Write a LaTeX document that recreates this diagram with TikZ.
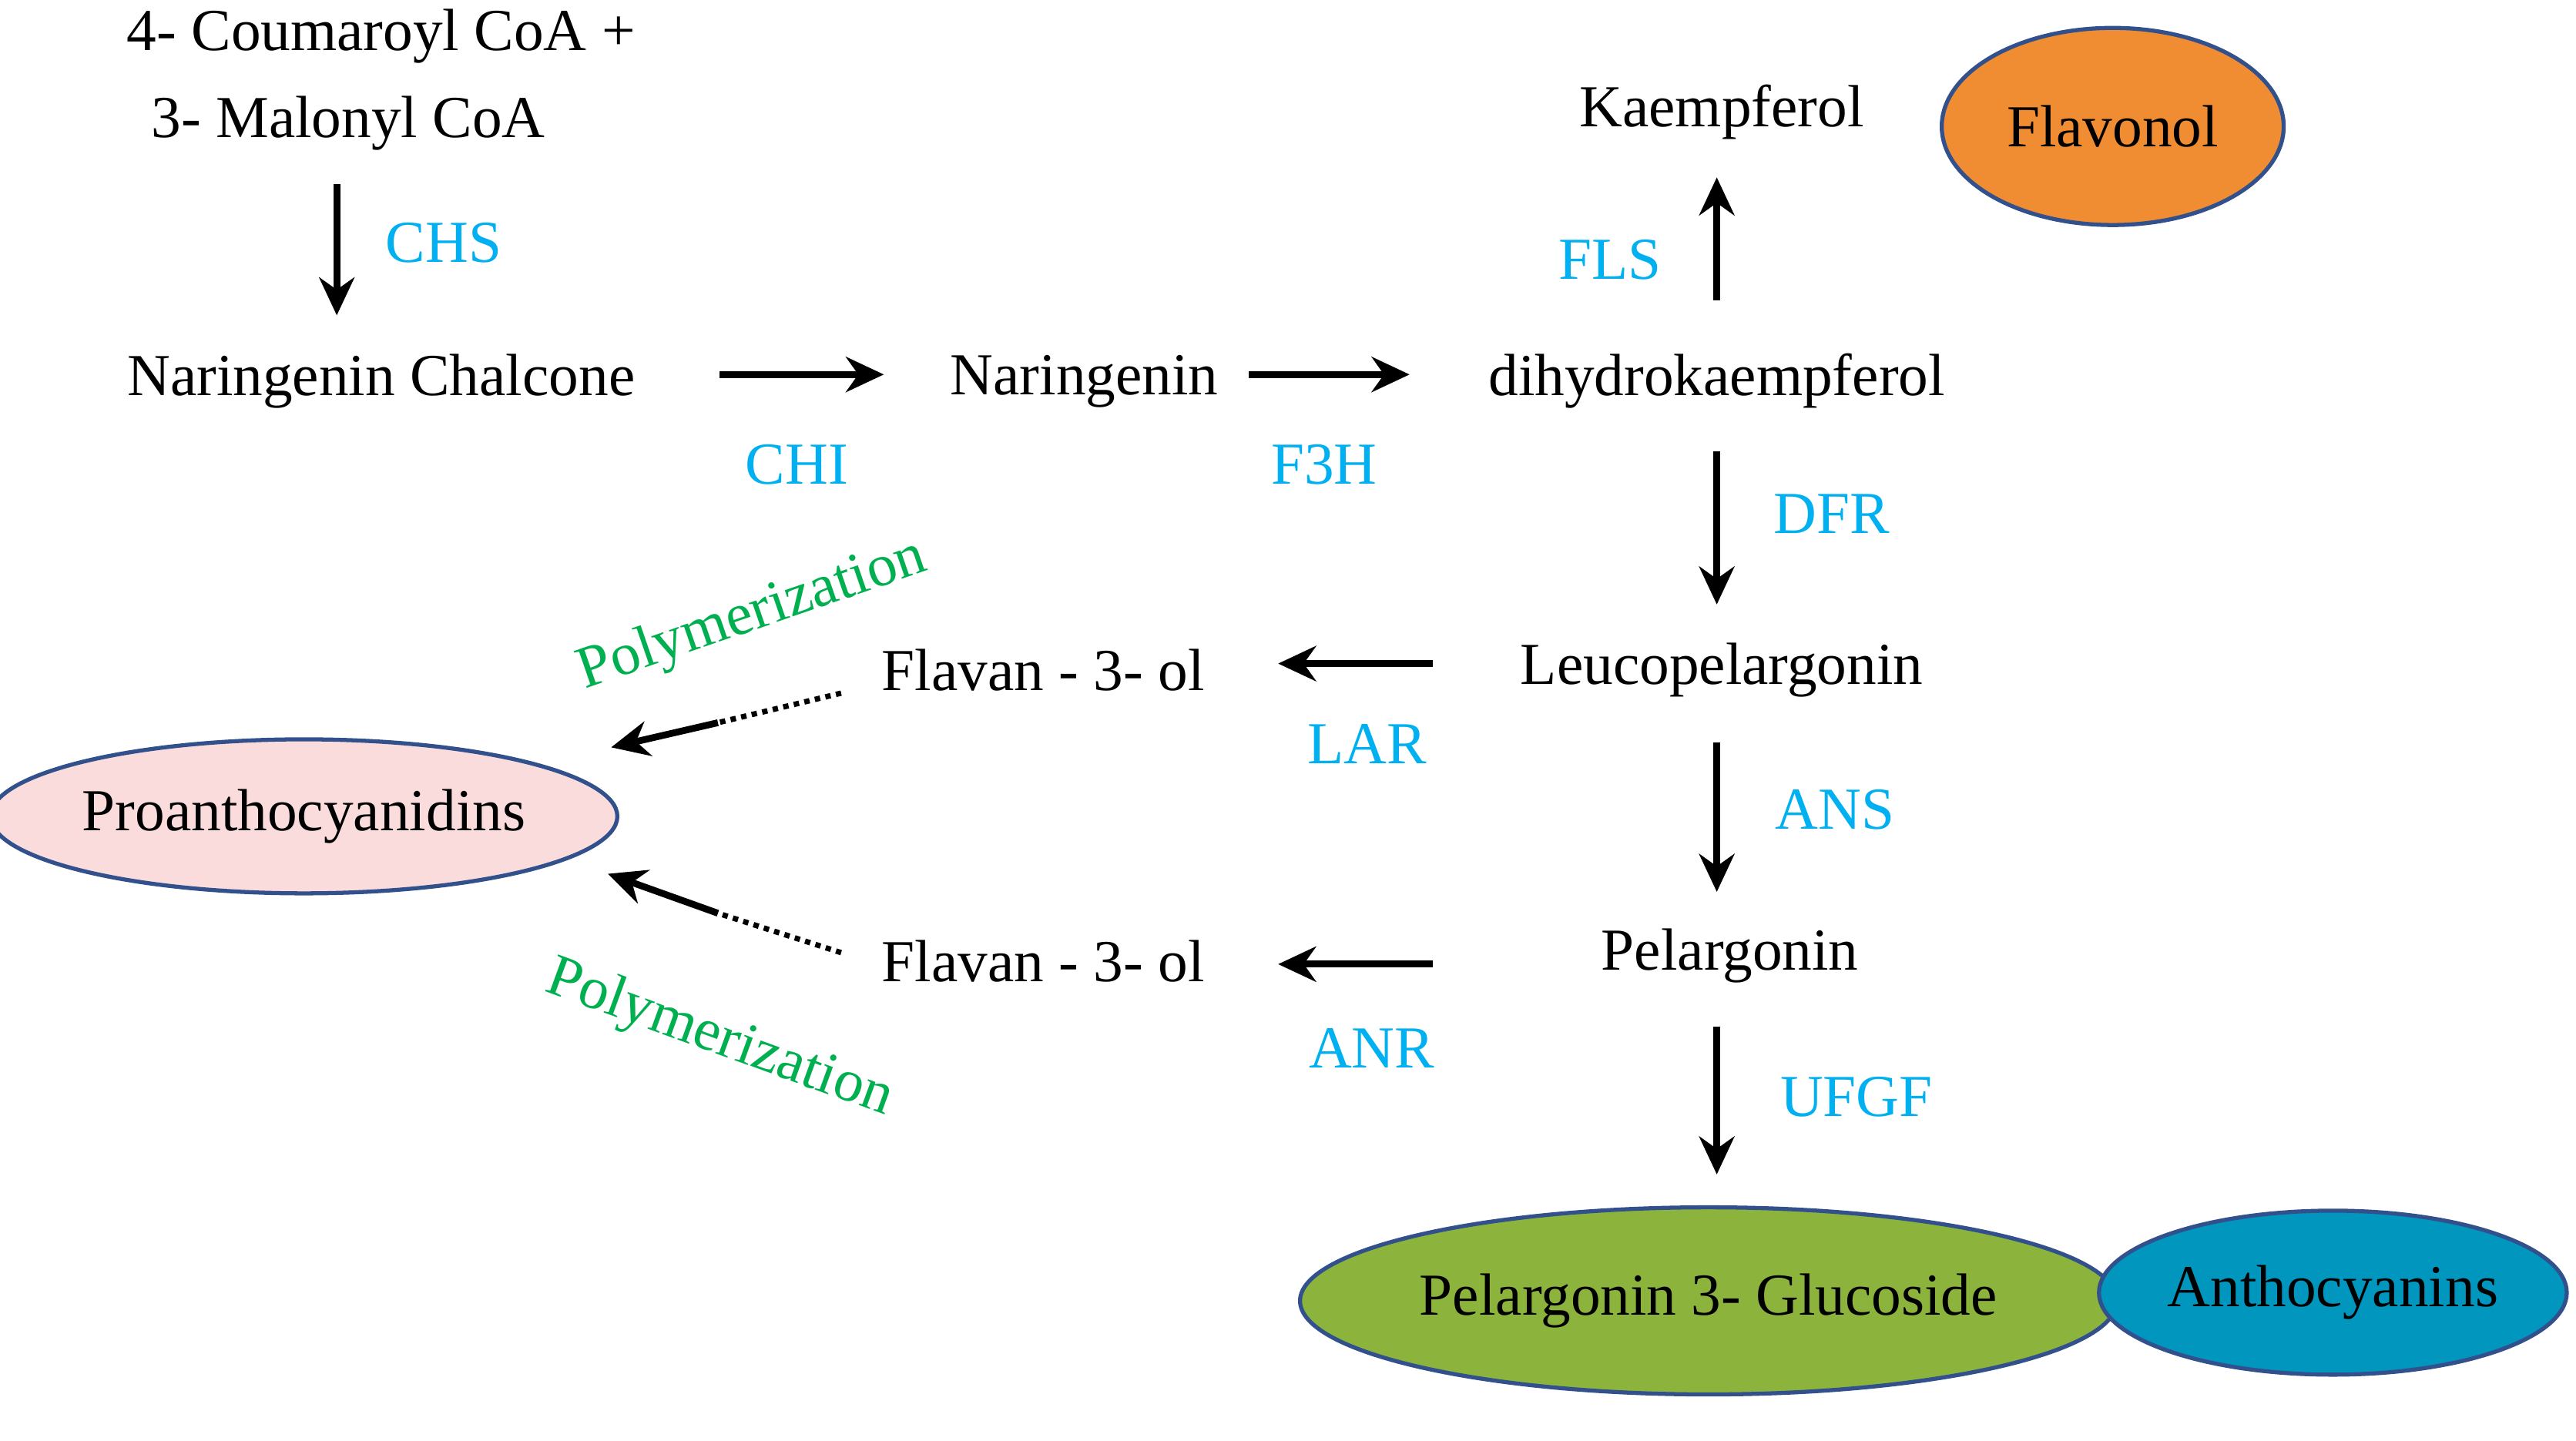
\documentclass[tikz,border=0pt]{standalone}
\usepackage{fontspec}
\setmainfont{Liberation Serif}
\usetikzlibrary{arrows.meta,shapes.geometric}
\definecolor{enz}{RGB}{0,176,240}
\definecolor{poly}{RGB}{0,176,80}
\definecolor{rim}{RGB}{50,80,140}
\definecolor{flavfill}{RGB}{240,140,50}
\definecolor{profill}{RGB}{250,220,220}
\definecolor{glufill}{RGB}{140,180,60}
\definecolor{antfill}{RGB}{0,150,190}
\tikzset{
    cmp/.style={font=\fontsize{22}{26}\selectfont, inner sep=0pt},
    enzy/.style={font=\fontsize{22}{26}\selectfont, text=enz, inner sep=0pt},
    pol/.style={font=\fontsize{22}{26}\selectfont, text=poly, inner sep=0pt},
    blob/.style={ellipse, draw=rim, line width=1.5pt, inner sep=0pt, font=\fontsize{22}{26}\selectfont},
    rxn/.style={-{Stealth[length=14pt,width=13pt]}, line width=2.5pt}
}
\begin{document}
\begin{tikzpicture}[x=0.021327cm,y=-0.021327cm]
\useasboundingbox (0,0) rectangle (1568,877);
% compounds
\node[cmp] (cou) at (232,22) {4- Coumaroyl CoA +};
\node[cmp] (mal) at (212,75) {3- Malonyl CoA};
\node[cmp] (chal) at (232,232) {Naringenin Chalcone};
\node[cmp] (nar) at (660,232) {Naringenin};
\node[cmp] (dhk) at (1045,232) {dihydrokaempferol};
\node[cmp] (kae) at (1048,68) {Kaempferol};
\node[cmp] (leu) at (1048,408) {Leucopelargonin};
\node[cmp] (pel) at (1053,582) {Pelargonin};
\node[cmp] (fl1) at (635,408) {Flavan - 3- ol};
\node[cmp] (fl2) at (635,585) {Flavan - 3- ol};
% classes
\node[blob, fill=flavfill, minimum width=4.44cm, minimum height=2.56cm] (flav) at (1286,77) {Flavonol};
\node[blob, fill=profill, minimum width=7.55cm, minimum height=2.0cm] (pro) at (185,497) {Proanthocyanidins};
\node[blob, fill=glufill, minimum width=10.02cm, minimum height=2.43cm] (glu) at (1040,792) {Pelargonin 3- Glucoside};
\node[blob, fill=antfill, minimum width=5.97cm, minimum height=2.13cm] (ant) at (1420,787) {Anthocyanins};
% arrow ends
\coordinate (a1) at (205,112); \coordinate (a2) at (205,192);
\coordinate (b1) at (438,228); \coordinate (b2) at (538,228);
\coordinate (c1) at (760,228); \coordinate (c2) at (858,228);
\coordinate (d1) at (1045,183); \coordinate (d2) at (1045,108);
\coordinate (e1) at (1045,275); \coordinate (e2) at (1045,368);
\coordinate (f1) at (872,404); \coordinate (f2) at (778,404);
\coordinate (g1) at (1045,452); \coordinate (g2) at (1045,543);
\coordinate (h1) at (872,587); \coordinate (h2) at (778,587);
\coordinate (i1) at (1045,625); \coordinate (i2) at (1045,715);
\coordinate (p1) at (512,422); \coordinate (p2) at (437,440); \coordinate (p3) at (372,455);
\coordinate (q1) at (512,580); \coordinate (q2) at (437,556); \coordinate (q3) at (370,532);
\draw[rxn] (a1) -- (a2);
\draw[rxn] (b1) -- (b2);
\draw[rxn] (c1) -- (c2);
\draw[rxn] (d1) -- (d2);
\draw[rxn] (e1) -- (e2);
\draw[rxn] (f1) -- (f2);
\draw[rxn] (g1) -- (g2);
\draw[rxn] (h1) -- (h2);
\draw[rxn] (i1) -- (i2);
\draw[line width=2pt, dotted] (p1) -- (p2);
\draw[rxn] (p2) -- (p3);
\draw[line width=2pt, dotted] (q1) -- (q2);
\draw[rxn] (q2) -- (q3);
% enzymes
\node[enzy] (chs) at (270,148) {CHS};
\node[enzy] (chi) at (485,283) {CHI};
\node[enzy] (f3h) at (806,283) {F3H};
\node[enzy] (fls) at (980,158) {FLS};
\node[enzy] (dfr) at (1115,313) {DFR};
\node[enzy] (lar) at (832,453) {LAR};
\node[enzy] (ans) at (1117,493) {ANS};
\node[enzy] (anr) at (835,638) {ANR};
\node[enzy] (ufgf) at (1130,668) {UFGF};
\node[pol, rotate=19] (pm1) at (458,375) {Polymerization};
\node[pol, rotate=-20] (pm2) at (438,633) {Polymerization};
\end{tikzpicture}
\end{document}
